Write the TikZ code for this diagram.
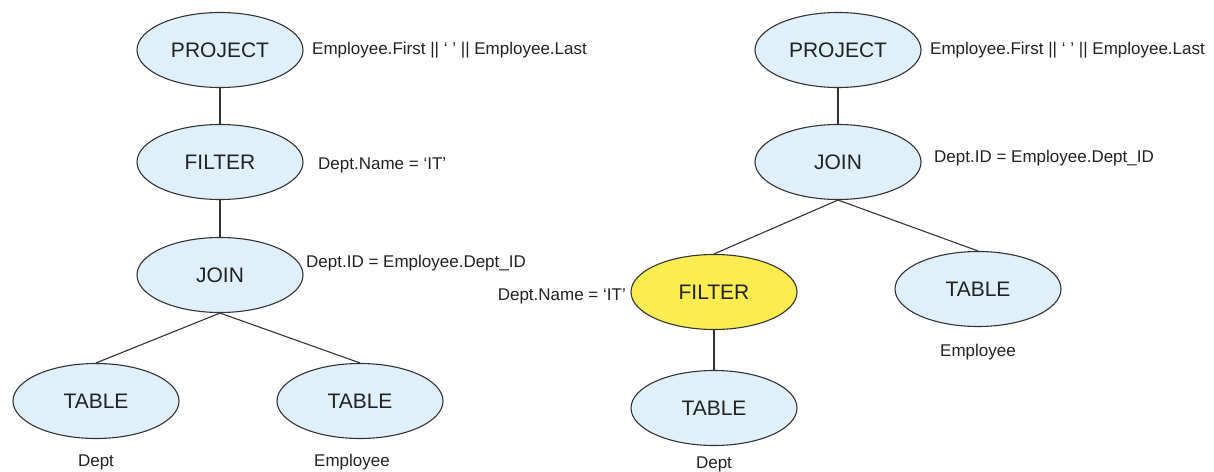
\documentclass[tikz,border=0pt]{standalone}
\usepackage{fontspec}
\setmainfont{Liberation Sans}
\usetikzlibrary{shapes.geometric}
\definecolor{opfill}{HTML}{DFF0FB}
\definecolor{hifill}{HTML}{FBEC52}
\definecolor{edge}{HTML}{333333}
\definecolor{ink}{HTML}{222222}
\tikzset{
  op/.style={ellipse, draw=edge, line width=1.1pt, fill=opfill, inner sep=0pt,
    minimum width=166pt, minimum height=75pt, text=ink,
    font=\fontsize{21}{24}\selectfont},
  hiop/.style={op, fill=hifill},
  note/.style={text=ink, inner sep=0pt, font=\fontsize{17}{20}\selectfont},
  link/.style={draw=edge, line width=1.1pt}
}
\begin{document}
\begin{tikzpicture}[x=1pt, y=-1pt]
\useasboundingbox (0,0) rectangle (1214,471);

% plan 1: filter applied after the join
\node[op] (p1) at (220,50) {PROJECT};
\node[op] (f1) at (220,162) {FILTER};
\node[op] (j1) at (220,275) {JOIN};
\node[op] (t1a) at (96,401) {TABLE};
\node[op] (t1b) at (360,401) {TABLE};
\node[note, anchor=west] (p1n) at (312,50) {Employee.First || ‘ ’ || Employee.Last};
\node[note, anchor=west] (f1n) at (318,165) {Dept.Name = ‘IT’};
\node[note, anchor=west] (j1n) at (306,263) {Dept.ID = Employee.Dept\_ID};
\node[note] (t1an) at (96,462) {Dept};
\node[note] (t1bn) at (352,462) {Employee};
\draw[link] (p1) -- (f1);
\draw[link] (f1) -- (j1);
\draw[link] (j1.south) -- (t1a.north);
\draw[link] (j1.south) -- (t1b.north);

% plan 2: filter pushed below the join
\node[op] (p2) at (838,50) {PROJECT};
\node[op] (j2) at (838,162) {JOIN};
\node[hiop] (f2) at (714,292) {FILTER};
\node[op] (t2b) at (978,289) {TABLE};
\node[op] (t2a) at (714,408) {TABLE};
\node[note, anchor=west] (p2n) at (930,50) {Employee.First || ‘ ’ || Employee.Last};
\node[note, anchor=west] (j2n) at (934,158) {Dept.ID = Employee.Dept\_ID};
\node[note, anchor=east] (f2n) at (626,296) {Dept.Name = ‘IT’};
\node[note] (t2bn) at (978,352) {Employee};
\node[note] (t2an) at (714,464) {Dept};
\draw[link] (p2) -- (j2);
\draw[link] (j2.south) -- (f2.north);
\draw[link] (j2.south) -- (t2b.north);
\draw[link] (f2) -- (t2a);
\end{tikzpicture}
\end{document}
